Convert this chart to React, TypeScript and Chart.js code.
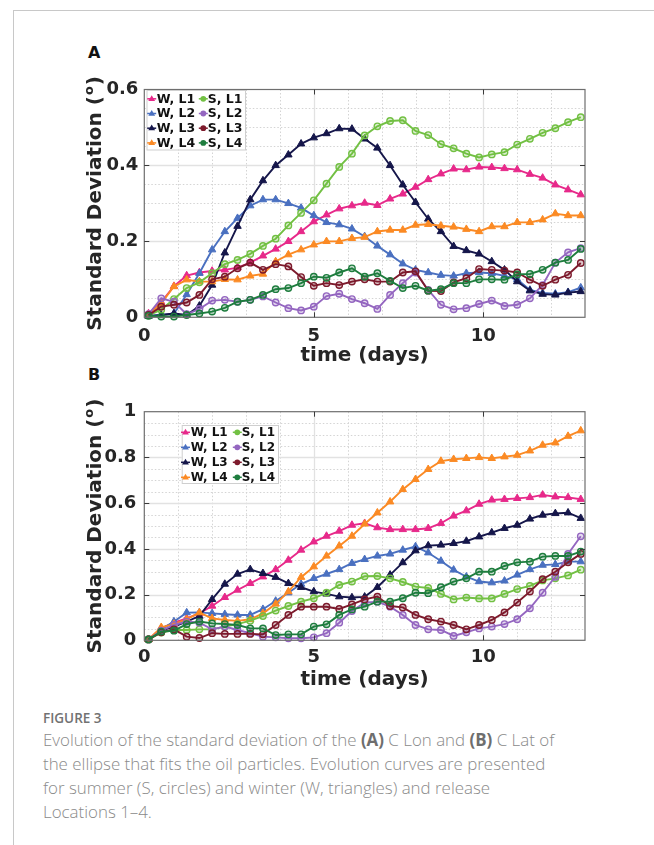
import React, { useEffect, useRef } from "react";
import { Chart, registerables } from "chart.js";

Chart.register(...registerables);

// ---------- data ----------
const TIME = [
  0.125, 0.5, 0.875, 1.25, 1.625, 2, 2.375, 2.75, 3.125, 3.5, 3.875, 4.25, 4.625, 5, 5.375, 5.75, 6.125, 6.5,
  6.875, 7.25, 7.625, 8, 8.375, 8.75, 9.125, 9.5, 9.875, 10.25, 10.625, 11, 11.375, 11.75, 12.125, 12.5, 12.875,
];
const X_TICKS = [0, 5, 10];
const Y_TICKS_A = [0, 0.2, 0.4, 0.6];
const Y_TICKS_B = [0, 0.2, 0.4, 0.6, 0.8, 1];
const SERIES_LABELS = ["W, L1", "W, L2", "W, L3", "W, L4", "S, L1", "S, L2", "S, L3", "S, L4"];

// Panel A (C Lon)
const A_W1 = [0.01, 0.04, 0.082, 0.11, 0.118, 0.122, 0.125, 0.131, 0.144, 0.162, 0.18, 0.2, 0.226, 0.252, 0.27, 0.286, 0.294, 0.301, 0.295, 0.312, 0.325, 0.343, 0.363, 0.378, 0.391, 0.389, 0.396, 0.395, 0.392, 0.389, 0.377, 0.367, 0.349, 0.336, 0.323];
const A_W2 = [0.004, 0.006, 0.01, 0.06, 0.116, 0.178, 0.226, 0.261, 0.294, 0.31, 0.31, 0.3, 0.288, 0.268, 0.25, 0.244, 0.233, 0.213, 0.188, 0.165, 0.141, 0.125, 0.118, 0.111, 0.109, 0.116, 0.118, 0.116, 0.109, 0.1, 0.072, 0.064, 0.062, 0.066, 0.078];
const A_W3 = [0.003, 0.006, 0.01, 0.006, 0.03, 0.085, 0.17, 0.24, 0.31, 0.36, 0.4, 0.428, 0.457, 0.473, 0.484, 0.497, 0.496, 0.47, 0.446, 0.4, 0.349, 0.303, 0.259, 0.226, 0.187, 0.176, 0.167, 0.147, 0.125, 0.094, 0.07, 0.061, 0.059, 0.065, 0.068];
const A_W4 = [0.006, 0.037, 0.081, 0.099, 0.094, 0.094, 0.1, 0.099, 0.109, 0.114, 0.147, 0.165, 0.178, 0.191, 0.2, 0.2, 0.208, 0.211, 0.226, 0.23, 0.23, 0.243, 0.245, 0.241, 0.238, 0.232, 0.226, 0.239, 0.239, 0.25, 0.25, 0.257, 0.273, 0.268, 0.268];
const A_S1 = [0.005, 0.02, 0.048, 0.077, 0.092, 0.116, 0.14, 0.151, 0.167, 0.188, 0.207, 0.242, 0.275, 0.308, 0.352, 0.396, 0.431, 0.479, 0.503, 0.517, 0.519, 0.491, 0.48, 0.456, 0.445, 0.431, 0.421, 0.429, 0.435, 0.455, 0.47, 0.486, 0.498, 0.514, 0.527];
const A_S2 = [0.008, 0.05, 0.041, 0.008, 0.022, 0.044, 0.046, 0.041, 0.046, 0.055, 0.039, 0.024, 0.018, 0.028, 0.056, 0.062, 0.048, 0.037, 0.022, 0.059, 0.09, 0.118, 0.072, 0.033, 0.021, 0.024, 0.035, 0.044, 0.03, 0.033, 0.05, 0.085, 0.144, 0.171, 0.182];
const A_S3 = [0.006, 0.028, 0.033, 0.039, 0.059, 0.1, 0.107, 0.129, 0.144, 0.125, 0.14, 0.134, 0.106, 0.083, 0.09, 0.085, 0.094, 0.1, 0.094, 0.094, 0.118, 0.121, 0.07, 0.069, 0.092, 0.103, 0.127, 0.125, 0.123, 0.118, 0.099, 0.083, 0.099, 0.112, 0.143];
const A_S4 = [0.004, 0.002, 0.002, 0.006, 0.01, 0.015, 0.025, 0.041, 0.046, 0.059, 0.074, 0.077, 0.09, 0.107, 0.104, 0.118, 0.129, 0.107, 0.116, 0.096, 0.077, 0.083, 0.07, 0.074, 0.09, 0.09, 0.1, 0.1, 0.099, 0.113, 0.114, 0.125, 0.144, 0.151, 0.18];

// Panel B (C Lat)
const B_W1 = [0.004, 0.052, 0.077, 0.096, 0.118, 0.15, 0.188, 0.22, 0.249, 0.278, 0.31, 0.351, 0.395, 0.431, 0.456, 0.478, 0.504, 0.512, 0.493, 0.485, 0.485, 0.485, 0.49, 0.512, 0.544, 0.567, 0.596, 0.614, 0.617, 0.621, 0.625, 0.636, 0.628, 0.625, 0.617];
const B_W2 = [0.004, 0.048, 0.082, 0.121, 0.122, 0.118, 0.114, 0.111, 0.111, 0.136, 0.172, 0.208, 0.246, 0.271, 0.29, 0.31, 0.337, 0.354, 0.369, 0.378, 0.395, 0.41, 0.383, 0.347, 0.308, 0.278, 0.257, 0.252, 0.26, 0.286, 0.31, 0.329, 0.332, 0.344, 0.344];
const B_W3 = [0.004, 0.042, 0.06, 0.082, 0.106, 0.179, 0.246, 0.29, 0.31, 0.293, 0.276, 0.249, 0.232, 0.213, 0.203, 0.191, 0.187, 0.19, 0.232, 0.286, 0.34, 0.392, 0.414, 0.417, 0.424, 0.434, 0.453, 0.471, 0.49, 0.504, 0.531, 0.548, 0.555, 0.558, 0.534];
const B_W4 = [0.004, 0.057, 0.071, 0.092, 0.121, 0.096, 0.089, 0.085, 0.092, 0.118, 0.159, 0.213, 0.276, 0.322, 0.369, 0.413, 0.456, 0.509, 0.558, 0.606, 0.66, 0.704, 0.748, 0.784, 0.792, 0.796, 0.8, 0.796, 0.803, 0.81, 0.829, 0.854, 0.864, 0.893, 0.917];
const B_S1 = [0.004, 0.034, 0.045, 0.045, 0.048, 0.048, 0.06, 0.071, 0.086, 0.106, 0.13, 0.15, 0.169, 0.184, 0.208, 0.242, 0.257, 0.28, 0.281, 0.271, 0.255, 0.235, 0.229, 0.203, 0.179, 0.187, 0.183, 0.183, 0.203, 0.224, 0.238, 0.262, 0.271, 0.284, 0.309];
const B_S2 = [0.004, 0.042, 0.067, 0.082, 0.077, 0.048, 0.06, 0.045, 0.031, 0.016, 0.013, 0.009, 0.009, 0.013, 0.031, 0.077, 0.128, 0.165, 0.169, 0.147, 0.111, 0.067, 0.048, 0.045, 0.019, 0.035, 0.052, 0.06, 0.071, 0.092, 0.14, 0.208, 0.278, 0.378, 0.455];
const B_S3 = [0.004, 0.035, 0.048, 0.016, 0.01, 0.031, 0.028, 0.028, 0.028, 0.026, 0.067, 0.111, 0.147, 0.147, 0.147, 0.137, 0.157, 0.179, 0.191, 0.15, 0.144, 0.111, 0.092, 0.082, 0.067, 0.048, 0.067, 0.089, 0.122, 0.165, 0.213, 0.267, 0.3, 0.341, 0.378];
const B_S4 = [0.004, 0.038, 0.042, 0.071, 0.082, 0.074, 0.071, 0.067, 0.052, 0.052, 0.023, 0.026, 0.026, 0.06, 0.07, 0.111, 0.135, 0.147, 0.169, 0.169, 0.184, 0.208, 0.206, 0.232, 0.257, 0.271, 0.3, 0.3, 0.325, 0.341, 0.344, 0.366, 0.369, 0.369, 0.388];

const COLORS = ["#e7298a", "#4a70c0", "#15164a", "#fb8a24", "#72c043", "#9466c0", "#7d1a2c", "#1e7d3e"];

const FONT = "'DejaVu Sans', 'Liberation Sans', sans-serif";
const INK = "#262626";

type LegendGeom = {
  dx: number; dy: number; w: number; h: number;
  row0: number; rowStep: number;
  c1m: number; c1t: number; c2m: number; c2t: number; font: number;
};

function drawMarker(ctx: CanvasRenderingContext2D, tri: boolean, x: number, y: number, color: string, r: number) {
  ctx.save();
  ctx.strokeStyle = color;
  ctx.fillStyle = color;
  if (tri) {
    ctx.beginPath();
    ctx.moveTo(x, y - r);
    ctx.lineTo(x + r * 0.95, y + r * 0.6);
    ctx.lineTo(x - r * 0.95, y + r * 0.6);
    ctx.closePath();
    ctx.fill();
  } else {
    ctx.beginPath();
    ctx.arc(x, y, r * 0.8, 0, Math.PI * 2);
    ctx.fill();
  }
  ctx.restore();
}

const decorPlugin = {
  id: "decor",
  beforeDatasetsDraw(chart: any, _args: any, opts: any) {
    const { ctx, chartArea: a, scales } = chart;
    const xs = scales.x;
    const ys = scales.y;
    ctx.save();
    ctx.lineWidth = 1;
    // minor grid (dotted)
    ctx.strokeStyle = "#d4d4d4";
    ctx.setLineDash([1.5, 2]);
    for (let v = 1; v < xs.max; v++) {
      if (X_TICKS.includes(v)) continue;
      const px = Math.round(xs.getPixelForValue(v)) + 0.5;
      ctx.beginPath(); ctx.moveTo(px, a.top); ctx.lineTo(px, a.bottom); ctx.stroke();
    }
    for (let i = 1; i * 0.05 < ys.max - 1e-9; i++) {
      if (i % 4 === 0) continue;
      const py = Math.round(ys.getPixelForValue(i * 0.05)) + 0.5;
      ctx.beginPath(); ctx.moveTo(a.left, py); ctx.lineTo(a.right, py); ctx.stroke();
    }
    // major grid (solid)
    ctx.setLineDash([]);
    ctx.strokeStyle = "#e2e2e2";
    ctx.lineWidth = 1.3;
    for (const v of X_TICKS) {
      if (v <= xs.min || v >= xs.max) continue;
      const px = Math.round(xs.getPixelForValue(v)) + 0.5;
      ctx.beginPath(); ctx.moveTo(px, a.top); ctx.lineTo(px, a.bottom); ctx.stroke();
    }
    for (const v of opts.yTicks as number[]) {
      if (v <= ys.min || v >= ys.max) continue;
      const py = Math.round(ys.getPixelForValue(v)) + 0.5;
      ctx.beginPath(); ctx.moveTo(a.left, py); ctx.lineTo(a.right, py); ctx.stroke();
    }
    ctx.restore();
  },
  afterDatasetsDraw(chart: any, _args: any, opts: any) {
    const { ctx, chartArea: a, scales } = chart;
    const xs = scales.x;
    const ys = scales.y;
    ctx.save();
    // box
    ctx.strokeStyle = "#6e6e6e";
    ctx.lineWidth = 1.2;
    ctx.strokeRect(a.left, a.top, a.right - a.left, a.bottom - a.top);
    // inward ticks
    ctx.strokeStyle = "#3a3a3a";
    ctx.lineWidth = 1;
    const tl = 5;
    for (const v of X_TICKS) {
      if (v <= xs.min || v >= xs.max) continue;
      const px = Math.round(xs.getPixelForValue(v)) + 0.5;
      ctx.beginPath(); ctx.moveTo(px, a.bottom); ctx.lineTo(px, a.bottom - tl); ctx.stroke();
      ctx.beginPath(); ctx.moveTo(px, a.top); ctx.lineTo(px, a.top + tl); ctx.stroke();
    }
    for (const v of opts.yTicks as number[]) {
      if (v <= ys.min || v >= ys.max) continue;
      const py = Math.round(ys.getPixelForValue(v)) + 0.5;
      ctx.beginPath(); ctx.moveTo(a.left, py); ctx.lineTo(a.left + tl, py); ctx.stroke();
      ctx.beginPath(); ctx.moveTo(a.right, py); ctx.lineTo(a.right - tl, py); ctx.stroke();
    }
    // legend
    const g: LegendGeom = opts.legend;
    const lx = a.left + g.dx;
    const ly = a.top + g.dy;
    ctx.fillStyle = "#ffffff";
    ctx.fillRect(lx, ly, g.w, g.h);
    ctx.strokeStyle = "#cfcfcf";
    ctx.lineWidth = 1;
    ctx.strokeRect(lx + 0.5, ly + 0.5, g.w, g.h);
    ctx.font = `bold ${g.font}px ${FONT}`;
    ctx.textBaseline = "middle";
    ctx.textAlign = "left";
    for (let r = 0; r < 4; r++) {
      const y = ly + g.row0 + r * g.rowStep;
      const cols = [
        { i: r, m: g.c1m, t: g.c1t },
        { i: r + 4, m: g.c2m, t: g.c2t },
      ];
      for (const c of cols) {
        const color = COLORS[c.i];
        ctx.strokeStyle = color;
        ctx.lineWidth = 1.5;
        ctx.beginPath();
        ctx.moveTo(lx + c.m - 4.5, y);
        ctx.lineTo(lx + c.m + 4.5, y);
        ctx.stroke();
        drawMarker(ctx, c.i < 4, lx + c.m, y, color, 3.6);
        ctx.fillStyle = "#111111";
        ctx.fillText(SERIES_LABELS[c.i], lx + c.t, y + 0.5);
      }
    }
    ctx.restore();
  },
  afterDraw(chart: any, _args: any, opts: any) {
    const { ctx, chartArea: a } = chart;
    ctx.save();
    ctx.fillStyle = INK;
    // x title
    ctx.font = `bold 20px ${FONT}`;
    ctx.textAlign = "center";
    ctx.textBaseline = "middle";
    ctx.fillText("time (days)", (a.left + a.right) / 2, a.bottom + opts.xTitleOffset);
    // y title with superscript o
    const cx = a.left + opts.yTitleOffset;
    const cy = (a.top + a.bottom) / 2;
    ctx.translate(cx, cy);
    ctx.rotate(-Math.PI / 2);
    const main = "Standard Deviation (";
    const close = ")";
    ctx.font = `bold 20px ${FONT}`;
    const w1 = ctx.measureText(main).width;
    const w3 = ctx.measureText(close).width;
    ctx.font = `bold 13px ${FONT}`;
    const w2 = ctx.measureText("o").width;
    const total = w1 + w2 + w3 + 2;
    let x0 = -total / 2;
    ctx.textAlign = "left";
    ctx.textBaseline = "middle";
    ctx.font = `bold 20px ${FONT}`;
    ctx.fillText(main, x0, 0);
    x0 += w1 + 1;
    ctx.font = `bold 13px ${FONT}`;
    ctx.fillText("o", x0, -6);
    x0 += w2 + 1;
    ctx.font = `bold 20px ${FONT}`;
    ctx.fillText(close, x0, 0);
    ctx.restore();
  },
};

type PanelProps = {
  series: number[][];
  yMax: number;
  yTicks: number[];
  legend: LegendGeom;
  left: number;
  top: number;
  width: number;
  height: number;
  padTop: number;
  padRight: number;
  yAxisW: number;
  xAxisH: number;
  xTickPad: number;
  yTickPad: number;
  xTitleOffset: number;
  yTitleOffset: number;
};

function Panel(p: PanelProps) {
  const ref = useRef<HTMLCanvasElement>(null);
  useEffect(() => {
    if (!ref.current) return;
    const datasets = p.series.map((vals, i) => {
      const tri = i < 4;
      return {
        label: SERIES_LABELS[i],
        data: TIME.map((t, k) => ({ x: t, y: vals[k] })),
        borderColor: COLORS[i],
        backgroundColor: COLORS[i],
        borderWidth: 1.9,
        pointStyle: tri ? "triangle" : "circle",
        pointRadius: tri ? 4.3 : 3.2,
        pointBorderWidth: tri ? 1 : 1.4,
        pointBorderColor: COLORS[i],
        pointBackgroundColor: tri ? COLORS[i] : COLORS[i] + "40",
        tension: 0,
        clip: false as any,
        order: 10 - i,
      };
    });
    const chart = new Chart(ref.current, {
      type: "line",
      data: { datasets },
      plugins: [decorPlugin as any],
      options: {
        animation: false,
        responsive: false,
        maintainAspectRatio: false,
        layout: { padding: { top: p.padTop, right: p.padRight, left: 0, bottom: 0 } },
        plugins: {
          legend: { display: false },
          tooltip: { enabled: false },
          decor: { yTicks: p.yTicks, legend: p.legend, xTitleOffset: p.xTitleOffset, yTitleOffset: p.yTitleOffset },
        } as any,
        scales: {
          x: {
            type: "linear",
            min: 0,
            max: 13,
            afterBuildTicks: (s: any) => {
              s.ticks = X_TICKS.map((v) => ({ value: v }));
            },
            afterFit: (s: any) => {
              s.height = p.xAxisH;
            },
            ticks: {
              autoSkip: false,
              maxRotation: 0,
              padding: p.xTickPad,
              color: INK,
              font: { family: FONT, size: 18, weight: "bold" },
              callback: (v: any) => String(v),
            },
            grid: { display: false, drawTicks: false },
            border: { display: false },
          },
          y: {
            type: "linear",
            min: 0,
            max: p.yMax,
            afterBuildTicks: (s: any) => {
              s.ticks = p.yTicks.map((v) => ({ value: v }));
            },
            afterFit: (s: any) => {
              s.width = p.yAxisW;
            },
            ticks: {
              autoSkip: false,
              padding: p.yTickPad,
              color: INK,
              font: { family: FONT, size: 18, weight: "bold" },
              callback: (v: any) => String(v),
            },
            grid: { display: false, drawTicks: false },
            border: { display: false },
          },
        },
      } as any,
    });
    return () => chart.destroy();
  }, []);
  return (
    <canvas
      ref={ref}
      width={p.width}
      height={p.height}
      style={{ position: "absolute", left: p.left, top: p.top, width: p.width, height: p.height }}
    />
  );
}

const CAPTION_FONT = "'Open Sans', Lato, sans-serif";

const captionStyle: React.CSSProperties = {
  position: "absolute",
  left: 43,
  whiteSpace: "nowrap",
  fontFamily: CAPTION_FONT,
  fontWeight: 300,
  fontSize: 16.9,
  lineHeight: "24px",
  color: "#8a8a8a",
};

export default function App() {
  return (
    <div
      style={{
        position: "absolute",
        left: 0,
        top: 0,
        width: 654,
        height: 845,
        background: "#ffffff",
        overflow: "hidden",
      }}
    >
      <div
        style={{
          position: "absolute",
          left: 13,
          top: 10,
          width: 660,
          height: 860,
          borderTop: "1px solid #c8c8c8",
          borderLeft: "1px solid #c8c8c8",
        }}
      />
      <div
        style={{ position: "absolute", left: 88, top: 45, font: `bold 16px ${FONT}`, lineHeight: "16px", color: "#111" }}
      >
        A
      </div>
      <div
        style={{ position: "absolute", left: 88, top: 367, font: `bold 16px ${FONT}`, lineHeight: "16px", color: "#111" }}
      >
        B
      </div>
      <Panel
        series={[A_W1, A_W2, A_W3, A_W4, A_S1, A_S2, A_S3, A_S4]}
        yMax={0.6}
        yTicks={Y_TICKS_A}
        legend={{ dx: 2.2, dy: 0.5, w: 98.5, h: 59.5, row0: 8.8, rowStep: 14.7, c1m: 5.2, c1t: 10.2, c2m: 56.8, c2t: 61.2, font: 12.5 }}
        left={60}
        top={70}
        width={540}
        height={305}
        padTop={19.5}
        padRight={15}
        yAxisW={84.3}
        xAxisH={57.7}
        xTickPad={8}
        yTickPad={6}
        xTitleOffset={38}
        yTitleOffset={-49}
      />
      <Panel
        series={[B_W1, B_W2, B_W3, B_W4, B_S1, B_S2, B_S3, B_S4]}
        yMax={1}
        yTicks={Y_TICKS_B}
        legend={{ dx: 37.4, dy: 13.3, w: 96.3, h: 58, row0: 7.3, rowStep: 15, c1m: 3.8, c1t: 9, c2m: 55.6, c2t: 60, font: 12 }}
        left={60}
        top={390}
        width={540}
        height={305}
        padTop={21.7}
        padRight={15}
        yAxisW={84.3}
        xAxisH={54.7}
        xTickPad={6}
        yTickPad={8}
        xTitleOffset={39}
        yTitleOffset={-49}
      />
      <div
        style={{
          position: "absolute",
          left: 43,
          top: 709,
          fontFamily: CAPTION_FONT,
          fontWeight: 600,
          fontSize: 13.5,
          lineHeight: "18px",
          color: "#727272",
          whiteSpace: "nowrap",
        }}
      >
        FIGURE 3
      </div>
      <div style={{ ...captionStyle, top: 728 }}>
        Evolution of the standard deviation of the <b style={{ color: "#6e6e6e", fontWeight: 700 }}>(A)</b> C Lon and{" "}
        <b style={{ color: "#6e6e6e", fontWeight: 700 }}>(B)</b> C Lat of
      </div>
      <div style={{ ...captionStyle, top: 752 }}>
        the ellipse that fits the oil particles. Evolution curves are presented
      </div>
      <div style={{ ...captionStyle, top: 776 }}>for summer (S, circles) and winter (W, triangles) and release</div>
      <div style={{ ...captionStyle, top: 800 }}>Locations 1–4.</div>
    </div>
  );
}
